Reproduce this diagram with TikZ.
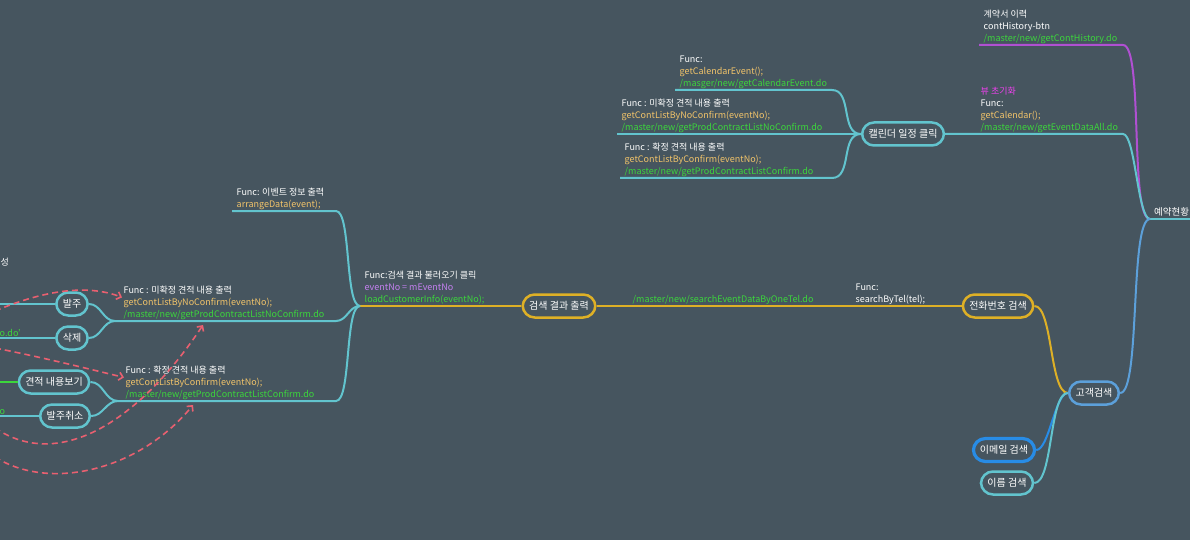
\documentclass[tikz,border=0pt]{standalone}
\usepackage{fontspec}
\setmainfont{Noto Sans CJK KR}
\usetikzlibrary{arrows.meta}

\definecolor{bgc}{RGB}{70,85,95}
\definecolor{tealc}{RGB}{98,196,206}
\definecolor{goldc}{RGB}{222,176,38}
\definecolor{skyc}{RGB}{92,160,218}
\definecolor{bluec}{RGB}{40,140,230}
\definecolor{purpc}{RGB}{176,80,210}
\definecolor{urlc}{RGB}{60,214,60}
\definecolor{fnc}{RGB}{242,196,106}
\definecolor{varc}{RGB}{196,128,240}
\definecolor{magc}{RGB}{240,64,240}
\definecolor{dashc}{RGB}{232,96,112}

\tikzset{
  pill/.style={draw=#1, line width=2.5pt, rounded corners=12pt, fill=bgc, text=white,
    minimum height=23pt, inner xsep=6.5pt, font=\fontsize{10}{12}\selectfont},
  pill/.default=tealc,
  note/.style={anchor=south west, align=left, text=white, inner sep=1.5pt, xshift=3pt,
    font=\fontsize{9}{12}\selectfont},
  link/.style={draw=#1, line width=2pt},
  link/.default=tealc,
  fan/.style={out=180, in=0},
  lfan/.style={out=180, in=0, looseness=0.4},
  rfan/.style={out=0, in=180, looseness=0.5},
  hint/.style={draw=dashc, line width=1.6pt, dash pattern=on 6pt off 4pt,
    -{Straight Barb[length=4pt,width=8pt]}},
}

\begin{document}
\begin{tikzpicture}[x=1pt,y=-1pt]
  \useasboundingbox (0,0) rectangle (1190,540);
  \fill[bgc] (0,0) rectangle (1190,540);

  % topics
  \node[anchor=west, text=white, inner sep=1pt, font=\fontsize{9.5}{11}\selectfont] (root) at (1153,212) {예약현황};
  \node[pill] (cal) at (903,134) {캘린더 일정 클릭};
  \node[pill=skyc] (cust) at (1094,393) {고객검색};
  \node[pill=goldc] (tel) at (998,306) {전화번호 검색};
  \node[pill=bluec, line width=3.2pt] (mail) at (1004,450) {이메일 검색};
  \node[pill] (name) at (1007,483) {이름 검색};
  \node[pill=goldc] (res) at (559,306) {검색 결과 출력};
  \node[pill] (ord) at (72,304) {발주};
  \node[pill] (del) at (72,338) {삭제};
  \node[pill] (view) at (54,382) {견적 내용보기};
  \node[pill] (cancel) at (65,416) {발주취소};

  % line ends
  \coordinate (rootj) at (1150,219);
  \coordinate (rootr) at (1196,219);
  \coordinate (histL) at (979,45);
  \coordinate (histR) at (1123,45);
  \coordinate (initR) at (1123,134);
  \coordinate (evL) at (675,90);
  \coordinate (evR) at (832,90);
  \coordinate (ncL) at (617,134);
  \coordinate (cfL) at (620,178);
  \coordinate (cfR) at (832,178);
  \coordinate (sj) at (360,306);
  \coordinate (arL) at (232,211);
  \coordinate (arR) at (336,211);
  \coordinate (noL) at (115,321);
  \coordinate (noR) at (336,321);
  \coordinate (okL) at (118,401);
  \coordinate (okR) at (336,401);
  \coordinate (ordE) at (-5,304);
  \coordinate (delE) at (-5,338);
  \coordinate (viewE) at (-5,382);
  \coordinate (cancelE) at (-5,416);

  % branches
  \draw[link] (rootj) -- (rootr);
  \draw[link=purpc] (histL) -- (histR) to[out=0, in=180, looseness=0.3] (rootj);
  \draw[link] (cal.east) -- (initR) to[out=0, in=180, looseness=0.35] (rootj);
  \draw[link=skyc] (cust.east) to[out=0, in=180, looseness=0.3] (rootj);
  \draw[link] (cal.west) to[fan] (evR) -- (evL);
  \draw[link] (cal.west) -- (ncL);
  \draw[link] (cal.west) to[fan] (cfR) -- (cfL);
  \draw[link=goldc] (tel.east) to[rfan] (cust.west);
  \draw[link=bluec] (mail.east) to[rfan] (cust.west);
  \draw[link] (name.east) to[rfan] (cust.west);
  \draw[link=goldc] (tel.west) -- (res.east);
  \draw[link=goldc] (res.west) -- (sj);
  \draw[link] (sj) to[lfan] (arR) -- (arL);
  \draw[link] (sj) to[fan] (noR) -- (noL);
  \draw[link] (sj) to[lfan] (okR) -- (okL);
  \draw[link] (noL) to[fan] (ord.east);
  \draw[link] (noL) to[fan] (del.east);
  \draw[link] (okL) to[fan] (view.east);
  \draw[link] (okL) to[fan] (cancel.east);
  \draw[link] (ord.west) -- (ordE);
  \draw[link] (del.west) -- (delE);
  \draw[link=urlc] (view.west) -- (viewE);
  \draw[link] (cancel.west) -- (cancelE);

  % labels
  \node[note] (histT) at (histL) {계약서 이력\\contHistory-btn\\\textcolor{urlc}{/master/new/getContHistory.do}};
  \node[note] (initT) at (976,134) {\textcolor{magc}{뷰 초기화}\\Func:\\\textcolor{fnc}{getCalendar();}\\\textcolor{urlc}{/master/new/getEventDataAll.do}};
  \node[note] (evT) at (evL) {Func:\\\textcolor{fnc}{getCalendarEvent();}\\\textcolor{urlc}{/masger/new/getCalendarEvent.do}};
  \node[note] (ncT) at (ncL) {Func : 미확정 견적 내용 출력\\\textcolor{fnc}{getContListByNoConfirm(eventNo);}\\\textcolor{urlc}{/master/new/getProdContractListNoConfirm.do}};
  \node[note] (cfT) at (cfL) {Func : 확정 견적 내용 출력\\\textcolor{fnc}{getContListByConfirm(eventNo);}\\\textcolor{urlc}{/master/new/getProdContractListConfirm.do}};
  \node[note] (telUrl) at (628,306) {\textcolor{urlc}{/master/new/searchEventDataByOneTel.do}};
  \node[note] (telFn) at (851,306) {Func:\\searchByTel(tel);};
  \node[note] (resT) at (sj) {Func:검색 결과 불러오기 클릭\\\textcolor{varc}{eventNo = mEventNo}\\\textcolor{urlc}{loadCustomerInfo(eventNo);}};
  \node[note] (arT) at (arL) {Func: 이벤트 정보 출력\\\textcolor{fnc}{arrangeData(event);}};
  \node[note] (noT) at (119,321) {Func : 미확정 견적 내용 출력\\\textcolor{fnc}{getContListByNoConfirm(eventNo);}\\\textcolor{urlc}{/master/new/getProdContractListNoConfirm.do}};
  \node[note] (okT) at (121,401) {Func : 확정 견적 내용 출력\\\textcolor{fnc}{getContListByConfirm(eventNo);}\\\textcolor{urlc}{/master/new/getProdContractListConfirm.do}};
  \node[note, anchor=west] (cutA) at (-4,262) {성};
  \node[note] (cutB) at (-5,338) {\textcolor{urlc}{o.do'}};
  \node[note] (cutC) at (-5,416) {\textcolor{urlc}{o}};

  % dashed hints
  \coordinate (d1s) at (-5,311);
  \coordinate (d2s) at (-5,348);
  \coordinate (d3s) at (-5,428);
  \coordinate (d4s) at (-5,457);
  \coordinate (d3e) at (203,325);
  \coordinate (d4e) at (193,405);
  \draw[hint] (d1s) .. controls (40,292) and (85,283) .. ([yshift=5pt]noT.west);
  \draw[hint] (d2s) .. controls (45,358) and (85,368) .. ([yshift=5pt]okT.west);
  \draw[hint] (d3s) .. controls (60,472) and (140,420) .. (d3e);
  \draw[hint] (d4s) .. controls (50,492) and (140,470) .. (d4e);
\end{tikzpicture}
\end{document}
